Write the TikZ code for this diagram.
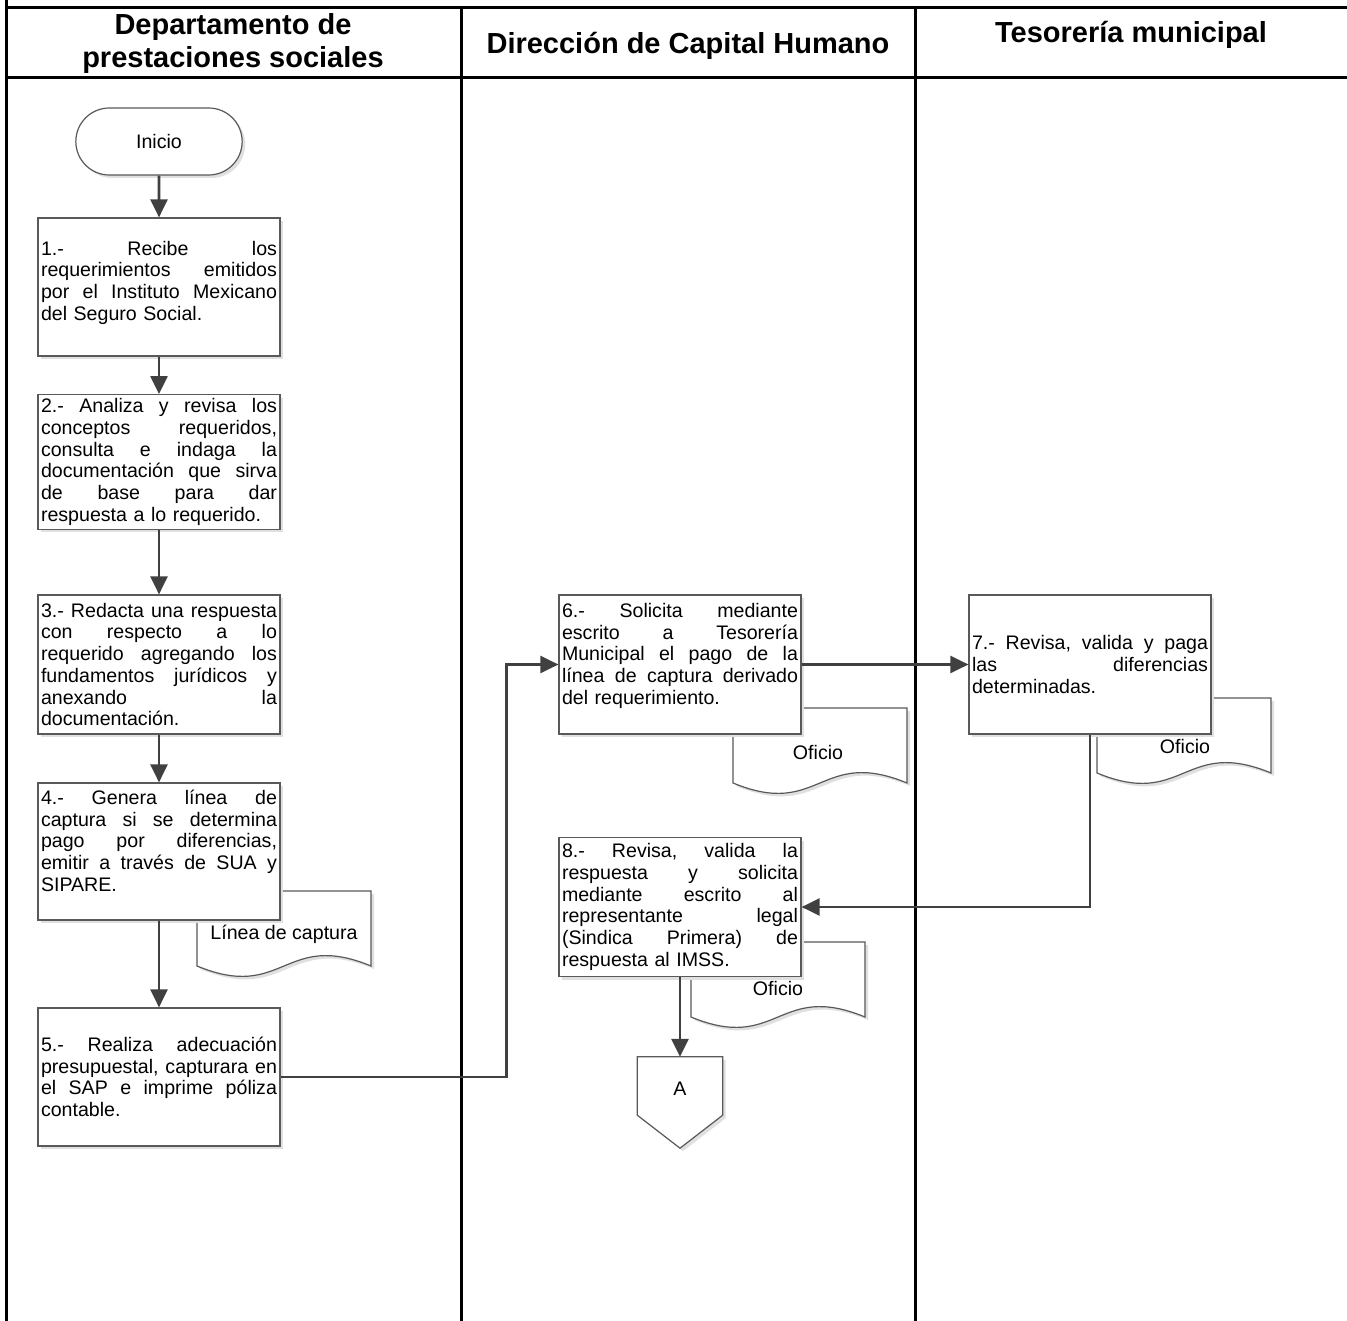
\documentclass[tikz,border=0pt]{standalone}
\usepackage{fontspec}
\setmainfont{Liberation Sans}
\usetikzlibrary{arrows.meta,shapes.misc,shadows}

\tikzset{
  docshape/.pic={
    \draw[docline] (0,0) -- (174,0) -- (174,75)
      .. controls (87,39) and (87,111) .. (0,75) -- cycle;
  }
}

\begin{document}
\begin{tikzpicture}[x=1pt, y=-1pt,
    lane/.style={line width=3pt},
    title/.style={font=\fontsize{29}{33}\selectfont\bfseries, align=center},
    shade/.style={drop shadow={shadow xshift=3pt, shadow yshift=-3pt, fill=black!12, opacity=1}},
    process/.style={draw=black!65, line width=1.2pt, fill=white, shade,
                    text width=236pt, inner xsep=3pt, inner ysep=4pt,
                    minimum width=242pt, align=left,
                    font=\fontsize{19.6}{21.7}\selectfont},
    terminal/.style={rounded rectangle, draw=black!65, line width=1.2pt, fill=white, shade,
                     minimum width=173pt, minimum height=67pt,
                     font=\fontsize{19.6}{21.7}\selectfont},
    docline/.style={draw=black!65, line width=1.2pt, fill=white, shade},
    doctext/.style={font=\fontsize{19.6}{21.7}\selectfont},
    offpage/.style={minimum width=85pt, minimum height=58pt, inner sep=0pt},
    flow/.style={-{Triangle[length=18pt,width=17pt]}, line width=2.6pt, draw=black!75}]
\useasboundingbox (0,0) rectangle (1347,1321);

% lanes
\draw[lane] (6,0) -- (6,1321);
\draw[lane] (6,8) -- (1347,8);
\draw[lane] (6,78) -- (1347,78);
\foreach \x in {461,915}
    \draw[lane] (\x,8) -- (\x,1321);

\node[title] (hdep) at (233,44) {Departamento de\\prestaciones sociales};
\node[title] (hdir) at (688,46) {Dirección de Capital Humano};
\node[title] (htes) at (1131,35) {Tesorería municipal};

% documents
\pic at (197,891) {docshape};
\node[doctext] (lc4) at (284,934) {Línea de captura};
\pic at (733,708) {docshape};
\node[doctext] (of6) at (818,752) {Oficio};
\pic at (1097,698) {docshape};
\node[doctext] (of7) at (1185,746) {Oficio};
\pic at (691,942) {docshape};
\node[doctext] (of8) at (778,988) {Oficio};

% steps
\node[terminal] (inicio) at (159,141.5) {Inicio};
\node[process, minimum height=138pt] (b1) at (159,287)
    {1.-\hfill Recibe\hfill los\\
     requerimientos\hfill emitidos\\
     por\hfill el\hfill Instituto\hfill Mexicano\\
     del Seguro Social.\\[-8.7pt]\mbox{}};
\node[process, minimum height=130pt] (b2) at (159,462)
    {2.-\hfill Analiza\hfill y\hfill revisa\hfill los\\
     conceptos\hfill requeridos,\\
     consulta\hfill e\hfill indaga\hfill la\\
     documentación\hfill que\hfill sirva\\
     de\hfill base\hfill para\hfill dar\\
     respuesta a lo requerido.};
\node[process, minimum height=139pt] (b3) at (159,664.5)
    {3.-\hfill Redacta\hfill una\hfill respuesta\\
     con\hfill respecto\hfill a\hfill lo\\
     requerido\hfill agregando\hfill los\\
     fundamentos\hfill jurídicos\hfill y\\
     anexando\hfill la\\
     documentación.};
\node[process, minimum height=137pt] (b4) at (159,851.5)
    {4.-\hfill Genera\hfill línea\hfill de\\
     captura\hfill si\hfill se\hfill determina\\
     pago\hfill por\hfill diferencias,\\
     emitir\hfill a\hfill través\hfill de\hfill SUA\hfill y\\
     SIPARE.\\\mbox{}};
\node[process, minimum height=138pt] (b5) at (159,1077)
    {5.-\hfill Realiza\hfill adecuación\\
     presupuestal,\hfill capturara\hfill en\\
     el\hfill SAP\hfill e\hfill imprime\hfill póliza\\
     contable.};
\node[process, minimum height=139pt] (b6) at (680,664.5)
    {6.-\hfill Solicita\hfill mediante\\
     escrito\hfill a\hfill Tesorería\\
     Municipal\hfill el\hfill pago\hfill de\hfill la\\
     línea\hfill de\hfill captura\hfill derivado\\
     del requerimiento.\\\mbox{}};
\node[process, minimum height=139pt] (b7) at (1090,664.5)
    {7.-\hfill Revisa,\hfill valida\hfill y\hfill paga\\
     las\hfill diferencias\\
     determinadas.};
\node[process, minimum height=139pt] (b8) at (680,907)
    {8.-\hfill Revisa,\hfill valida\hfill la\\
     respuesta\hfill y\hfill solicita\\
     mediante\hfill escrito\hfill al\\
     representante\hfill legal\\
     (Sindica\hfill Primera)\hfill de\\
     respuesta al IMSS.};

% connector A
\node[offpage] (conA) at (680,1086) {};
\draw[docline] (conA.north west) -- (conA.north east) -- (conA.south east)
    -- ([yshift=-33pt]conA.south) -- (conA.south west) -- cycle;
\node[doctext] (conAtext) at (680,1089) {A};

% arrows
\draw[flow] (inicio) -- (b1);
\draw[flow] (b1) -- (b2);
\draw[flow] (b2) -- (b3);
\draw[flow] (b3) -- (b4);
\draw[flow] (b4) -- (b5);
\draw[flow] (b5.east) -- ++(226,0) |- (b6.west);
\draw[flow] (b6) -- (b7);
\draw[flow] (b7.south) |- (b8.east);
\draw[flow] (b8) -- (conA);
\end{tikzpicture}
\end{document}
